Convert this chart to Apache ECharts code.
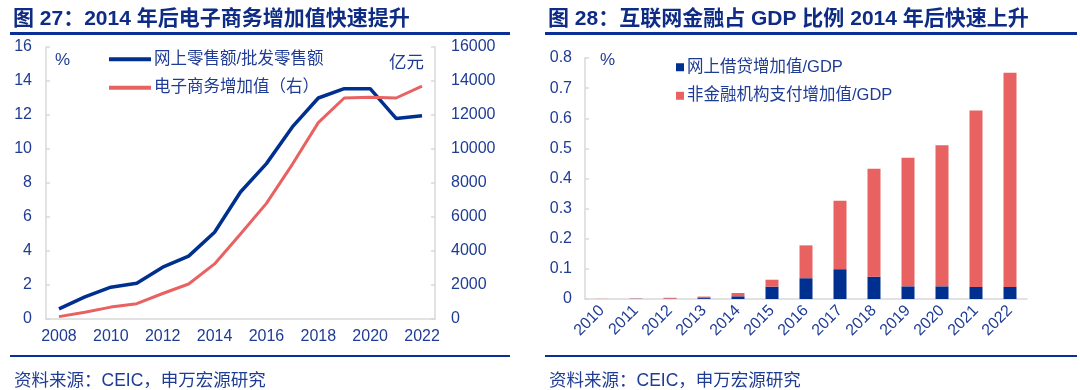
<!DOCTYPE html>
<html><head><meta charset="utf-8">
<script src="https://cdn.jsdelivr.net/npm/echarts@6/dist/echarts.min.js"></script>
<style>html,body{margin:0;padding:0;background:#fff}#c{width:1080px;height:390px}</style>
</head><body><div id="c"></div>
<script>
const years1 = ['2008','2009','2010','2011','2012','2013','2014','2015','2016','2017','2018','2019','2020','2021','2022'];
const onlineRatio = [0.6,1.3,1.87,2.1,3.05,3.7,5.1,7.47,9.14,11.3,13.0,13.55,13.55,11.8,11.95];
const ecomValue = [140,400,700,900,1500,2060,3240,5000,6800,9100,11550,13000,13050,13000,13700];
const years2 = ['2010','2011','2012','2013','2014','2015','2016','2017','2018','2019','2020','2021','2022'];
const lendingGDP = [0,0.0005,0.001,0.003,0.009,0.041,0.069,0.099,0.074,0.042,0.042,0.040,0.040];
const paymentGDP = [0.0005,0.001,0.003,0.005,0.011,0.023,0.109,0.227,0.358,0.427,0.468,0.586,0.711];
const names1 = ['网上零售额/批发零售额','电子商务增加值（右）'];
const names2 = ['网上借贷增加值/GDP','非金融机构支付增加值/GDP'];

const FONT = '"Liberation Sans", "Noto Sans CJK SC", sans-serif';
const BLUE = '#00308f';
const RED = '#e86262';
const TXT = '#1f3c95';
const TITLE = '#0e2c85';
const AX = '#d9d9d9';
const lab = {color: TXT, fontSize: 16, fontFamily: FONT};

const chart = echarts.init(document.getElementById('c'), null, {renderer: 'canvas'});
chart.setOption({
  animation: false,
  textStyle: {fontFamily: FONT},
  title: [
    {text: '图 27：2014 年后电子商务增加值快速提升', left: 8, top: 4, textStyle: {color: TITLE, fontSize: 21, fontWeight: 'bold', fontFamily: FONT}},
    {text: '图 28：互联网金融占 GDP 比例 2014 年后快速上升', left: 543, top: 4, textStyle: {color: TITLE, fontSize: 21, fontWeight: 'bold', fontFamily: FONT}},
    {text: '资料来源：CEIC，申万宏源研究', left: 9, top: 367, textStyle: {color: TXT, fontSize: 17.5, fontWeight: 'normal', fontFamily: FONT}},
    {text: '资料来源：CEIC，申万宏源研究', left: 544, top: 367, textStyle: {color: TXT, fontSize: 17.5, fontWeight: 'normal', fontFamily: FONT}}
  ],
  graphic: [
    {type: 'rect', shape: {x: 10, y: 32, width: 500, height: 3}, style: {fill: '#0a2f96'}},
    {type: 'rect', shape: {x: 545, y: 32, width: 532, height: 3}, style: {fill: '#0a2f96'}},
    {type: 'rect', shape: {x: 10, y: 355, width: 500, height: 2}, style: {fill: '#0a2f96'}},
    {type: 'rect', shape: {x: 545, y: 355, width: 532, height: 2}, style: {fill: '#0a2f96'}},
    {type: 'text', left: 55, top: 52, style: {text: '%', fill: TXT, font: '17px ' + FONT}},
    {type: 'text', left: 389, top: 54, style: {text: '亿元', fill: TXT, font: '17.5px ' + FONT}},
    {type: 'text', left: 600, top: 52, style: {text: '%', fill: TXT, font: '17px ' + FONT}}
  ],
  legend: [
    {data: names1, orient: 'vertical', left: 104, top: 46, icon: 'rect', itemWidth: 42, itemHeight: 4, itemGap: 12,
     textStyle: {color: TXT, fontSize: 16.5, fontFamily: FONT, padding: [0,0,0,-2]}},
    {data: names2, orient: 'vertical', left: 671, top: 54, icon: 'rect', itemWidth: 8, itemHeight: 8, itemGap: 12,
     textStyle: {color: TXT, fontSize: 16.5, fontFamily: FONT, padding: [0,0,0,-2]}}
  ],
  grid: [
    {left: 46, top: 47, width: 389, height: 272},
    {left: 585, top: 58, width: 442, height: 241}
  ],
  xAxis: [
    {type: 'category', gridIndex: 0, data: years1, boundaryGap: true,
     axisLine: {lineStyle: {color: AX, width: 1.5}},
     axisTick: {inside: true, length: 5, lineStyle: {color: AX, width: 1.5}},
     axisLabel: Object.assign({}, lab, {interval: 1, margin: 10})},
    {type: 'category', gridIndex: 1, data: years2, boundaryGap: true,
     axisLine: {lineStyle: {color: AX, width: 1.5}},
     axisTick: {inside: true, length: 5, lineStyle: {color: AX, width: 1.5}},
     axisLabel: Object.assign({}, lab, {rotate: 45, margin: 9})}
  ],
  yAxis: [
    {type: 'value', gridIndex: 0, min: 0, max: 16, interval: 2,
     axisLine: {show: true, lineStyle: {color: AX, width: 1.5}},
     axisTick: {show: true, inside: true, length: 4, lineStyle: {color: AX, width: 1.5}},
     splitLine: {show: false},
     axisLabel: Object.assign({}, lab, {margin: 14})},
    {type: 'value', gridIndex: 0, min: 0, max: 16000, interval: 2000, position: 'right',
     axisLine: {show: true, lineStyle: {color: AX, width: 1.5}},
     axisTick: {show: true, inside: true, length: 4, lineStyle: {color: AX, width: 1.5}},
     splitLine: {show: false},
     axisLabel: Object.assign({}, lab, {margin: 16, formatter: v => String(v)})},
    {type: 'value', gridIndex: 1, min: 0, max: 0.8, interval: 0.1,
     axisLine: {show: true, lineStyle: {color: AX, width: 1.5}},
     axisTick: {show: true, inside: true, length: 4, lineStyle: {color: AX, width: 1.5}},
     splitLine: {show: false},
     axisLabel: Object.assign({}, lab, {margin: 13, formatter: v => (Math.round(v*10)/10).toString()})}
  ],
  series: [
    {name: names1[0], type: 'line', xAxisIndex: 0, yAxisIndex: 0, data: onlineRatio, symbol: 'none',
     lineStyle: {color: BLUE, width: 3.5}, itemStyle: {color: BLUE}},
    {name: names1[1], type: 'line', xAxisIndex: 0, yAxisIndex: 1, data: ecomValue, symbol: 'none',
     lineStyle: {color: RED, width: 3}, itemStyle: {color: RED}},
    {name: names2[0], type: 'bar', xAxisIndex: 1, yAxisIndex: 2, stack: 's', data: lendingGDP, barWidth: 13,
     itemStyle: {color: BLUE}},
    {name: names2[1], type: 'bar', xAxisIndex: 1, yAxisIndex: 2, stack: 's', data: paymentGDP, barWidth: 13,
     itemStyle: {color: RED}}
  ]
});
</script></body></html>
